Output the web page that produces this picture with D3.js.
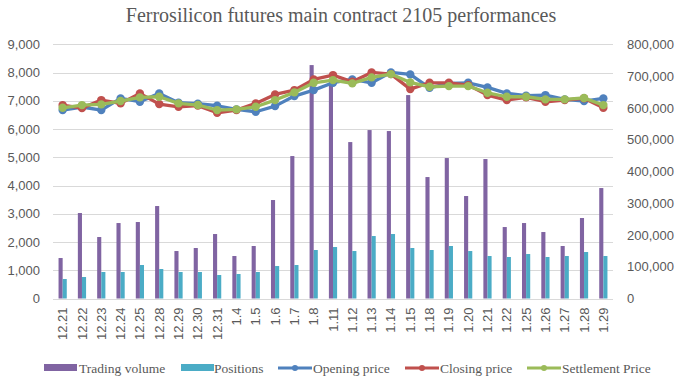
<!DOCTYPE html>
<html>
<head>
<meta charset="utf-8">
<script src="https://cdn.jsdelivr.net/npm/d3@7"></script>
<style>
  html, body { margin: 0; padding: 0; background: #fff; }
  svg { display: block; }
</style>
</head>
<body>
<svg id="chart" width="681" height="381"></svg>
<script>
const title = "Ferrosilicon futures main contract 2105 performances";
const categories = ["12.21","12.22","12.23","12.24","12.25","12.28","12.29","12.30","12.31","1.4","1.5","1.6","1.7","1.8","1.11","1.12","1.13","1.14","1.15","1.18","1.19","1.20","1.21","1.22","1.25","1.26","1.27","1.28","1.29"];
const tradingVolume = [127400, 269000, 193500, 237500, 240700, 291000, 149400, 158900, 202900, 133700, 165200, 309900, 448300, 734600, 672000, 492300, 530100, 527000, 640200, 382200, 442000, 322500, 438900, 224900, 237500, 209200, 165200, 253300, 347600];
const positions = [61300, 67600, 83400, 83400, 105400, 92800, 83400, 83400, 73900, 77100, 83400, 102200, 105400, 152600, 162000, 149400, 196600, 202900, 158900, 152600, 165200, 149400, 133700, 130600, 140000, 130600, 133700, 146300, 133700];
const openingPrice = [6670, 6780, 6670, 7085, 6966, 7262, 6930, 6900, 6824, 6695, 6612, 6812, 7167, 7379, 7640, 7758, 7637, 8005, 7935, 7460, 7616, 7637, 7474, 7262, 7179, 7202, 7049, 6990, 7085];
const closingPrice = [6848, 6740, 7025, 6908, 7262, 6883, 6788, 6830, 6576, 6671, 6908, 7226, 7379, 7758, 7910, 7672, 8005, 7945, 7414, 7637, 7637, 7555, 7202, 7025, 7120, 6966, 7025, 7090, 6752];
const settlementPrice = [6752, 6848, 6872, 6990, 7120, 7143, 6908, 6850, 6671, 6695, 6788, 7025, 7297, 7637, 7733, 7616, 7828, 7945, 7651, 7496, 7520, 7520, 7283, 7143, 7143, 7049, 7049, 7100, 6848];
const leftTicks = [0,1000,2000,3000,4000,5000,6000,7000,8000,9000];
const rightTicks = [0,100000,200000,300000,400000,500000,600000,700000,800000];

const barSeries = [
  {name: "Trading volume", values: tradingVolume, color: "#8064A2"},
  {name: "Positions", values: positions, color: "#4BACC6"}
];
const lineSeries = [
  {name: "Opening price", values: openingPrice, color: "#4F81BD"},
  {name: "Closing price", values: closingPrice, color: "#C0504D"},
  {name: "Settlement Price", values: settlementPrice, color: "#9BBB59"}
];

const svg = d3.select("#chart");
const m = {left: 53, right: 613, top: 44.3, bottom: 298.5};

const x = d3.scaleBand().domain(categories).range([m.left, m.right]).padding(0);
const yL = d3.scaleLinear().domain([0, 9000]).range([m.bottom, m.top]);
const yR = d3.scaleLinear().domain([0, 800000]).range([m.bottom, m.top]);

const groupW = x.bandwidth() / 2.35;
const xInner = d3.scaleBand().domain(barSeries.map(d => d.name)).range([0, groupW]).padding(0);

const fmt = d3.format(",");

// title
svg.append("text")
  .attr("x", 341).attr("y", 22)
  .attr("text-anchor", "middle")
  .attr("font-family", "'Liberation Serif', 'Times New Roman', serif")
  .attr("font-size", 20)
  .attr("fill", "#595959")
  .text(title);

// gridlines
svg.append("g").selectAll("line").data(leftTicks).join("line")
  .attr("x1", m.left).attr("x2", m.right)
  .attr("y1", d => Math.round(yL(d)) + 0.5).attr("y2", d => Math.round(yL(d)) + 0.5)
  .attr("stroke", "#D9D9D9").attr("stroke-width", 1);

// left axis
const axL = svg.append("g").attr("transform", `translate(${m.left},0)`)
  .call(d3.axisLeft(yL).tickValues(leftTicks).tickFormat(fmt).tickSize(0).tickPadding(13));
axL.select(".domain").remove();
axL.selectAll("text").attr("font-family", "'Liberation Sans', Arial, sans-serif").attr("font-size", 13).attr("fill", "#595959");

// right axis
const axR = svg.append("g").attr("transform", `translate(${m.right},0)`)
  .call(d3.axisRight(yR).tickValues(rightTicks).tickFormat(fmt).tickSize(0).tickPadding(14));
axR.select(".domain").remove();
axR.selectAll("text").attr("font-family", "'Liberation Sans', Arial, sans-serif").attr("font-size", 13).attr("fill", "#595959");

// bars
barSeries.forEach(s => {
  svg.append("g").selectAll("rect").data(s.values).join("rect")
    .attr("x", (d, i) => x(categories[i]) + (x.bandwidth() - groupW) / 2 + xInner(s.name))
    .attr("width", xInner.bandwidth())
    .attr("y", d => yR(d))
    .attr("height", d => yR(0) - yR(d))
    .attr("fill", s.color);
});

// lines
const cx = i => x(categories[i]) + x.bandwidth() / 2;
lineSeries.forEach(s => {
  const line = d3.line().x((d, i) => cx(i)).y(d => yL(d));
  svg.append("path").datum(s.values)
    .attr("d", line).attr("fill", "none")
    .attr("stroke", s.color).attr("stroke-width", 3.3).attr("stroke-linejoin", "round");
  svg.append("g").selectAll("circle").data(s.values).join("circle")
    .attr("cx", (d, i) => cx(i)).attr("cy", d => yL(d)).attr("r", 4.2)
    .attr("fill", s.color);
});

// x labels
const axX = svg.append("g").attr("transform", `translate(0,${m.bottom})`)
  .call(d3.axisBottom(x).tickSize(0).tickPadding(0));
axX.select(".domain").remove();
axX.selectAll("text")
  .attr("font-family", "'Liberation Sans', Arial, sans-serif").attr("font-size", 13).attr("fill", "#595959")
  .attr("transform", "rotate(-90)")
  .attr("text-anchor", "end")
  .attr("x", -9).attr("y", 0).attr("dy", "0.35em");

// legend
const legendItems = [
  {s: barSeries[0], type: "bar", sx: 44, tx: 79},
  {s: barSeries[1], type: "bar", sx: 181, tx: 214},
  {s: lineSeries[0], type: "line", sx: 278, tx: 313},
  {s: lineSeries[1], type: "line", sx: 405, tx: 440},
  {s: lineSeries[2], type: "line", sx: 527, tx: 562}
];
const ly = 368;
const lg = svg.append("g");
legendItems.forEach(it => {
  if (it.type === "bar") {
    lg.append("rect").attr("x", it.sx).attr("y", ly - 4).attr("width", 33).attr("height", 7).attr("fill", it.s.color);
  } else {
    lg.append("line").attr("x1", it.sx).attr("x2", it.sx + 34).attr("y1", ly).attr("y2", ly)
      .attr("stroke", it.s.color).attr("stroke-width", 3);
    lg.append("circle").attr("cx", it.sx + 17).attr("cy", ly).attr("r", 3).attr("fill", it.s.color);
  }
  lg.append("text").attr("x", it.tx).attr("y", ly).attr("dy", "0.35em")
    .attr("font-family", "'Liberation Serif', 'Times New Roman', serif").attr("font-size", 13.5)
    .attr("fill", "#595959").text(it.s.name);
});
</script>
</body>
</html>
